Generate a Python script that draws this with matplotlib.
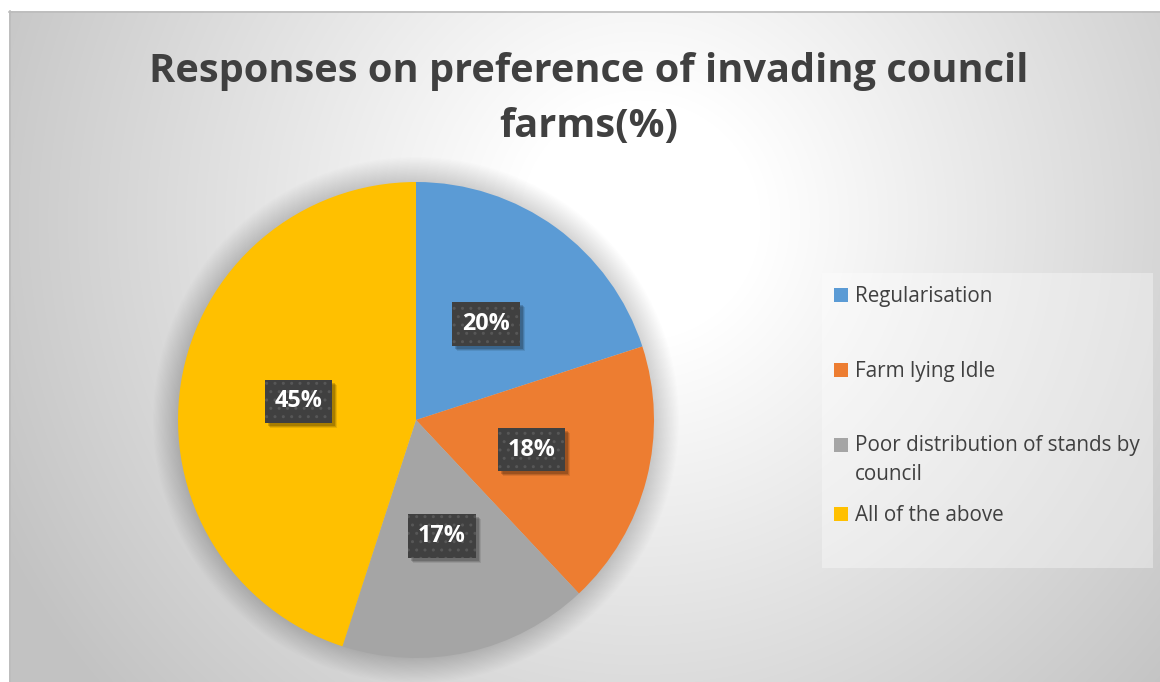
import numpy as np
import matplotlib
matplotlib.use('Agg')
import matplotlib.pyplot as plt
from matplotlib.patches import Rectangle, Circle

title = "Responses on preference of invading council\nfarms(%)"
categories = ["Regularisation", "Farm lying Idle",
              "Poor distribution of stands by\ncouncil", "All of the above"]
values = [20, 18, 17, 45]
colors = ["#5B9BD5", "#ED7D31", "#A5A5A5", "#FFC000"]

W, H = 1160, 682
fig = plt.figure(figsize=(W / 100, H / 100), dpi=100)
bg = fig.add_axes([0, 0, 1, 1])

# radial gradient background
yy, xx = np.mgrid[0:H, 0:W]
d = np.hypot(xx - 640, yy - 220)
t = np.clip((d - 120) / 600, 0, 1)
g = (255 - 61 * t) / 255
img = np.dstack([g, g, g])
img[:11, :, :] = 1
img[:, :9, :] = 1
bg.imshow(img, extent=(0, W, H, 0), interpolation='bilinear', aspect='auto')
bg.set_xlim(0, W)
bg.set_ylim(H, 0)
bg.axis('off')
bg.plot([9.5, 9.5], [11, H], color='#bcbcbc', lw=1.2)
bg.plot([9, W], [11.5, 11.5], color='#bcbcbc', lw=1.2)

# title
bg.text(589, 99, title, ha='center', va='center', fontsize=28.6,
        fontweight='bold', color='#404040', family='Open Sans', linespacing=1.56)

# legend box
bg.add_patch(Rectangle((822, 273), 331, 295, facecolor='white', alpha=0.35, lw=0))
leg_top = [288, 363, 438, 507]
line_h = 28
for lab, col, y in zip(categories, colors, leg_top):
    bg.add_patch(Rectangle((834, y), 14, 14, facecolor=col, lw=0))
    n_extra = lab.count('\n')
    bg.text(855, y + 14 + line_h * n_extra, lab, ha='left', va='baseline', fontsize=14.9,
            color='#404040', family='Open Sans', linespacing=1.52)

# pie
cx, cy, r = 416, 420, 238
ax = fig.add_axes([(cx - r) / W, (H - cy - r) / H, 2 * r / W, 2 * r / H])
for i in range(1, 22):
    ax.add_patch(Circle((0, 0.0), 1 + 0.005 * i, color='black', alpha=0.009,
                        lw=0, zorder=0, clip_on=False))
wedges, texts, autotexts = ax.pie(
    values, colors=colors, startangle=90, counterclock=False,
    autopct='%1.0f%%', pctdistance=0.5, radius=1,
    wedgeprops=dict(linewidth=0),
    textprops=dict(color='white', fontsize=16.8, fontweight='bold', family='Open Sans'))
for w in wedges:
    w.set_clip_on(False)
ax.set_xlim(-1, 1)
ax.set_ylim(-1, 1)
ax.axis('off')

pad = 'square,pad=0.42'
for at in autotexts:
    at.set_zorder(3)
    at.set_bbox(dict(boxstyle=pad, facecolor='#404040',
                     edgecolor='#575757', hatch='..', linewidth=0))

# soft drop shadow behind the label boxes
fig.canvas.draw()
shadows = []
for at in autotexts:
    bb = at.get_bbox_patch().get_window_extent()
    for off, a in [(5, 0.09), (4, 0.13), (3, 0.17)]:
        shadows.append(Rectangle((bb.x0 + off, bb.y0 - off), bb.width, bb.height,
                                 facecolor='black', alpha=a, lw=0, zorder=2.5))
for p in shadows:
    p.set_transform(matplotlib.transforms.IdentityTransform())
    p.set_clip_on(False)
    ax.add_artist(p)

fig.savefig('out.png', dpi=100)
